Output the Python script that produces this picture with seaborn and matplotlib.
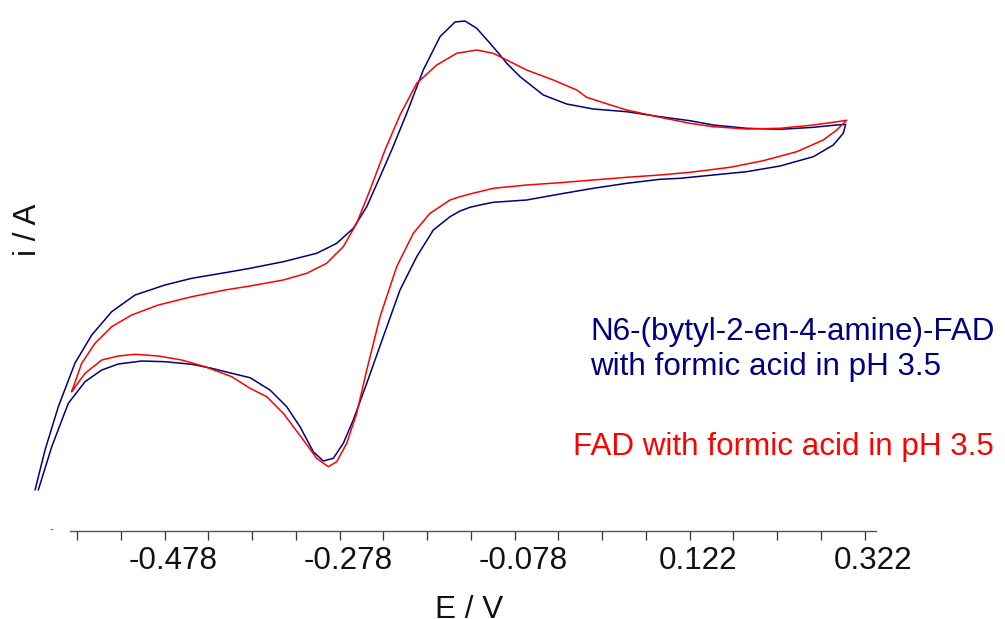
import numpy as np
import pandas as pd
import matplotlib
matplotlib.use("Agg")
import matplotlib.pyplot as plt
import matplotlib.transforms as mtransforms
from matplotlib.ticker import FixedLocator
import seaborn as sns

# cyclic voltammograms (E in V, i in arbitrary uA)
# N6-(bytyl-2-en-4-amine)-FAD: forward scan then return scan
blue_E = [-0.6262, -0.6148, -0.5996, -0.5805, -0.5614, -0.5386, -0.5119, -0.4777, -0.4471, -0.4091,
          -0.3805, -0.3425, -0.3043, -0.2814, -0.2625, -0.2471, -0.2319, -0.2186, -0.2014, -0.1825,
          -0.1634, -0.1462, -0.1348, -0.1214, -0.1062, -0.0948, -0.0871, -0.0719, -0.0453, -0.0186,
          0.0118, 0.0500, 0.0881, 0.1223, 0.1490, 0.1871, 0.2252, 0.2633, 0.2861, 0.3003,
          0.2975, 0.2861, 0.2633, 0.2252, 0.1871, 0.1490, 0.1109, 0.0881, 0.0500, 0.0118,
          -0.0262, -0.0643, -0.1025, -0.1177, -0.1291, -0.1405, -0.1519, -0.1710, -0.1900, -0.2091,
          -0.2282, -0.2471, -0.2625, -0.2739, -0.2853, -0.2967, -0.3082, -0.3234, -0.3386, -0.3577,
          -0.3805, -0.4014, -0.4243, -0.4471, -0.4777, -0.5043, -0.5310, -0.5500, -0.5691, -0.5882,
          -0.6071, -0.6225]
blue_i = [-1.900, -1.500, -1.067, -0.630, -0.350, -0.117, 0.050, 0.150, 0.217, 0.273,
          0.317, 0.383, 0.467, 0.567, 0.717, 0.933, 1.233, 1.500, 1.867, 2.300,
          2.633, 2.780, 2.790, 2.717, 2.567, 2.450, 2.367, 2.233, 2.050, 1.960,
          1.910, 1.883, 1.833, 1.793, 1.750, 1.717, 1.707, 1.727, 1.747, 1.757,
          1.667, 1.550, 1.433, 1.340, 1.283, 1.250, 1.217, 1.207, 1.167, 1.117,
          1.060, 1.000, 0.977, 0.950, 0.927, 0.890, 0.833, 0.700, 0.433, 0.100,
          -0.367, -0.833, -1.200, -1.433, -1.583, -1.610, -1.517, -1.267, -1.067, -0.900,
          -0.777, -0.733, -0.683, -0.643, -0.617, -0.610, -0.640, -0.700, -0.817, -1.033,
          -1.467, -1.900]

# FAD
red_E = [-0.5843, -0.5729, -0.5577, -0.5386, -0.5157, -0.4853, -0.4471, -0.4091, -0.3805, -0.3425,
         -0.3157, -0.2929, -0.2739, -0.2586, -0.2434, -0.2262, -0.2091, -0.1900, -0.1671, -0.1443,
         -0.1214, -0.1025, -0.0871, -0.0643, -0.0339, -0.0071, 0.0043, 0.0233, 0.0500, 0.0881,
         0.1223, 0.1490, 0.1871, 0.2252, 0.2633, 0.2861, 0.3014,
         0.2900, 0.2747, 0.2443, 0.2061, 0.1681, 0.1223, 0.0881, 0.0500, 0.0118, -0.0262,
         -0.0643, -0.1025, -0.1291, -0.1405, -0.1519, -0.1748, -0.1939, -0.2129, -0.2319, -0.2471,
         -0.2586, -0.2700, -0.2814, -0.2910, -0.3043, -0.3196, -0.3425, -0.3614, -0.3805, -0.4014,
         -0.4319, -0.4586, -0.4853, -0.5119, -0.5310, -0.5500, -0.5691, -0.5843]
red_i = [-0.917, -0.633, -0.433, -0.267, -0.150, -0.050, 0.033, 0.100, 0.140, 0.200,
         0.267, 0.367, 0.533, 0.767, 1.100, 1.500, 1.850, 2.167, 2.350, 2.467,
         2.500, 2.467, 2.400, 2.300, 2.200, 2.100, 2.027, 1.973, 1.900, 1.827,
         1.767, 1.733, 1.710, 1.717, 1.750, 1.777, 1.797,
         1.700, 1.600, 1.483, 1.393, 1.327, 1.277, 1.250, 1.227, 1.200, 1.173,
         1.150, 1.117, 1.060, 1.033, 1.000, 0.867, 0.667, 0.333, -0.167, -0.700,
         -1.133, -1.433, -1.617, -1.667, -1.583, -1.400, -1.133, -0.967, -0.883, -0.767,
         -0.667, -0.600, -0.560, -0.543, -0.560, -0.600, -0.733, -0.917]

tick_values = [-0.478, -0.278, -0.078, 0.122, 0.322]
tick_labels = ["-0.478", "-0.278", "-0.078", "0.122", "0.322"]
label_blue = ["N6-(bytyl-2-en-4-amine)-FAD", "with formic acid in pH 3.5"]
label_red = "FAD with formic acid in pH 3.5"

blue = "#000080"
red = "#ff0000"
fs = 22.6

df = pd.concat([
    pd.DataFrame({"E": blue_E, "i": blue_i, "sample": "N6"}),
    pd.DataFrame({"E": red_E, "i": red_i, "sample": "FAD"}),
], ignore_index=True)

sns.set_style("white")
plt.rcParams["font.family"] = ["Liberation Sans", "DejaVu Sans"]
plt.rcParams["axes.unicode_minus"] = False

fig = plt.figure(figsize=(10.05, 6.19), dpi=100)
ax = fig.add_axes([20 / 1005, 1 - 531 / 619, 860 / 1005, 531 / 619])

sns.lineplot(data=df, x="E", y="i", hue="sample", palette={"N6": blue, "FAD": red},
             sort=False, estimator=None, legend=False, linewidth=1.1, ax=ax)

ax.set_xlim(-0.6434, 0.3395)
ax.set_ylim(-2.31, 3.0)

# only a bottom axis, shorter than the plotting area
for s in ["left", "right", "top"]:
    ax.spines[s].set_visible(False)
ax.spines["bottom"].set_color("#555555")
ax.spines["bottom"].set_linewidth(1.0)
ax.spines["bottom"].set_bounds(-0.5862, 0.3349)

ax.set_yticks([])
ax.xaxis.set_major_locator(FixedLocator(tick_values))
ax.xaxis.set_minor_locator(FixedLocator(np.arange(-0.578, 0.33, 0.05)))
ax.set_xticklabels(tick_labels)
ax.tick_params(axis="x", which="both", direction="out", length=6.5, width=0.9,
               color="#333333", bottom=True)
ax.tick_params(axis="x", which="major", labelsize=fs, pad=4.3, labelcolor="#111111")

# labels sit a little to the right of their ticks
offset = mtransforms.ScaledTranslation(8 / 100, 0, fig.dpi_scale_trans)
for lab in ax.get_xticklabels():
    lab.set_transform(lab.get_transform() + offset)

ax.set_xlabel("E / V", fontsize=fs, color="#111111")
ax.xaxis.set_label_coords(0.5217, -0.121)
ax.set_ylabel("i / A", fontsize=fs, color="#111111")
ax.yaxis.set_label_coords(0.0267, 0.567)

ax.text(0.6628, 0.3597, label_blue[0], transform=ax.transAxes, color=blue, fontsize=fs,
        ha="left", va="baseline")
ax.text(0.6628, 0.2938, label_blue[1], transform=ax.transAxes, color=blue, fontsize=fs,
        ha="left", va="baseline")
ax.text(0.6434, 0.1431, label_red, transform=ax.transAxes, color=red, fontsize=fs,
        ha="left", va="baseline")

fig.text(51 / 1005, 1 - 529 / 619, "-", fontsize=8, color="#333333", ha="center", va="center")

fig.savefig("out.png", dpi=100)
